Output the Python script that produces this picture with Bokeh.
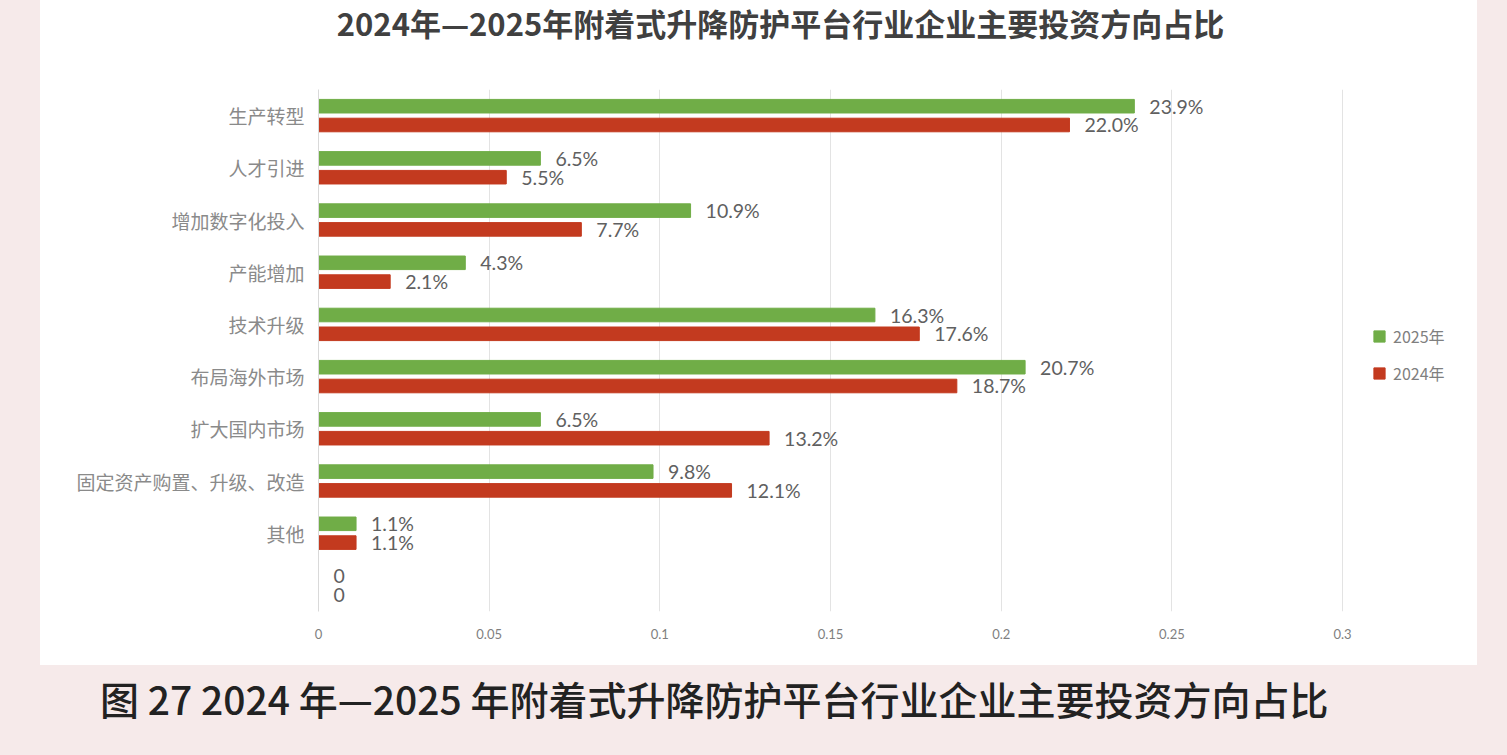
from bokeh.plotting import figure
from bokeh.models import (ColumnDataSource, FactorRange, Range1d, Legend, LegendItem,
                          Div, Spacer, CustomJSTickFormatter, FixedTicker)
from bokeh.layouts import column, row
from bokeh.transform import dodge
from bokeh.core.properties import value
from bokeh.embed import file_html
from bokeh.resources import INLINE

# ---- data (top to bottom as in the chart) ----
categories = ["生产转型", "人才引进", "增加数字化投入", "产能增加", "技术升级",
              "布局海外市场", "扩大国内市场", "固定资产购置、升级、改造", "其他", " "]
share_2025 = [0.239, 0.065, 0.109, 0.043, 0.163, 0.207, 0.065, 0.098, 0.011, 0.0]
share_2024 = [0.220, 0.055, 0.077, 0.021, 0.176, 0.187, 0.132, 0.121, 0.011, 0.0]
x_ticks = [0, 0.05, 0.1, 0.15, 0.2, 0.25, 0.3]
series_names = ["2025年", "2024年"]

title_text = "2024年—2025年附着式升降防护平台行业企业主要投资方向占比"
caption_text = "图 27 2024 年—2025 年附着式升降防护平台行业企业主要投资方向占比"

GREEN = "#70ad47"
RED = "#c33a1f"
CJK = "Noto Sans CJK SC"


def fmt(v):
    return f"{v * 100:.1f}%" if v else "0"


src = ColumnDataSource(dict(
    cat=categories,
    v25=share_2025,
    v24=share_2024,
    l25=[fmt(v) for v in share_2025],
    l24=[fmt(v) for v in share_2024],
))

factors = list(reversed(categories))

p = figure(width=1437, height=605,
           y_range=FactorRange(*factors, range_padding=0),
           x_range=Range1d(0, 0.3366),
           output_backend="svg", toolbar_location=None,
           min_border_left=278, min_border_right=10,
           min_border_top=29, min_border_bottom=54)
p.background_fill_color = "white"
p.border_fill_color = "white"
p.outline_line_color = None

r25 = p.hbar(y=dodge("cat", 0.18, range=p.y_range), left=0, right="v25", height=0.26,
             color=GREEN, source=src)
r24 = p.hbar(y=dodge("cat", -0.18, range=p.y_range), left=0, right="v24", height=0.26,
             color=RED, source=src)

p.text(x="v25", y=dodge("cat", 0.18, range=p.y_range), text="l25", source=src,
       x_offset=15, text_baseline="middle", text_align="left",
       text_font=value("Lato"), text_font_size="19.5px", text_color="#606060")
p.text(x="v24", y=dodge("cat", -0.18, range=p.y_range), text="l24", source=src,
       x_offset=15, text_baseline="middle", text_align="left",
       text_font=value("Lato"), text_font_size="19.5px", text_color="#606060")

# axes
p.xaxis.ticker = FixedTicker(ticks=x_ticks)
p.xaxis.formatter = CustomJSTickFormatter(code="return String(Math.round(tick*100)/100);")
p.xaxis.axis_line_color = None
p.xaxis.major_tick_line_color = None
p.xaxis.minor_tick_line_color = None
p.xaxis.major_label_text_font = "Lato"
p.xaxis.major_label_text_font_size = "13px"
p.xaxis.major_label_text_color = "#7f7f7f"
p.xaxis.major_label_standoff = 11

p.yaxis.axis_line_color = "#d9d9d9"
p.yaxis.major_tick_line_color = None
p.yaxis.minor_tick_line_color = None
p.yaxis.major_label_text_font = CJK
p.yaxis.major_label_text_font_size = "19px"
p.yaxis.major_label_text_color = "#8a8a8a"
p.yaxis.major_label_standoff = 8

p.ygrid.grid_line_color = None
p.xgrid.ticker = FixedTicker(ticks=x_ticks)
p.xgrid.grid_line_color = "#e3e3e3"

legend = Legend(items=[LegendItem(label=series_names[0], renderers=[r25]),
                       LegendItem(label=series_names[1], renderers=[r24])],
                location=(1054, 226), orientation="vertical")
legend.border_line_color = None
legend.background_fill_alpha = 0
legend.label_text_font = CJK
legend.label_text_font_size = "16px"
legend.label_text_color = "#7f7f7f"
legend.glyph_width = 14
legend.glyph_height = 14
legend.label_height = 20
legend.label_standoff = 7
legend.spacing = 13
legend.margin = 0
legend.padding = 3
p.add_layout(legend, "center")

title_div = Div(
    text=f'<div style="box-sizing:border-box;width:1437px;text-align:center;font-family:\'{CJK}\';font-weight:bold;'
         f'font-size:31px;color:#404040;line-height:46px;margin:0;padding:0 0 0 44px;">{title_text}</div>',
    width=1437, height=60,
    styles={"background-color": "white", "margin": "0"})

panel = column(title_div, p, width=1437, height=665, spacing=0,
               styles={"background-color": "white"})

caption_div = Div(
    text=f'<div style="box-sizing:border-box;width:1507px;text-align:left;font-family:\'{CJK}\';font-weight:500;'
         f'font-size:39px;color:#222222;line-height:44px;margin:0;padding:11px 0 0 100px;">{caption_text}</div>',
    width=1507, height=90, styles={"margin": "0"})

top_row = row(Spacer(width=40, height=665), panel, Spacer(width=30, height=665),
              width=1507, height=665, spacing=0)

page = column(top_row, caption_div, width=1507, height=755, spacing=0,
              styles={"background-color": "#f6eaea"})

open("out.html", "w").write(file_html(page, INLINE))
